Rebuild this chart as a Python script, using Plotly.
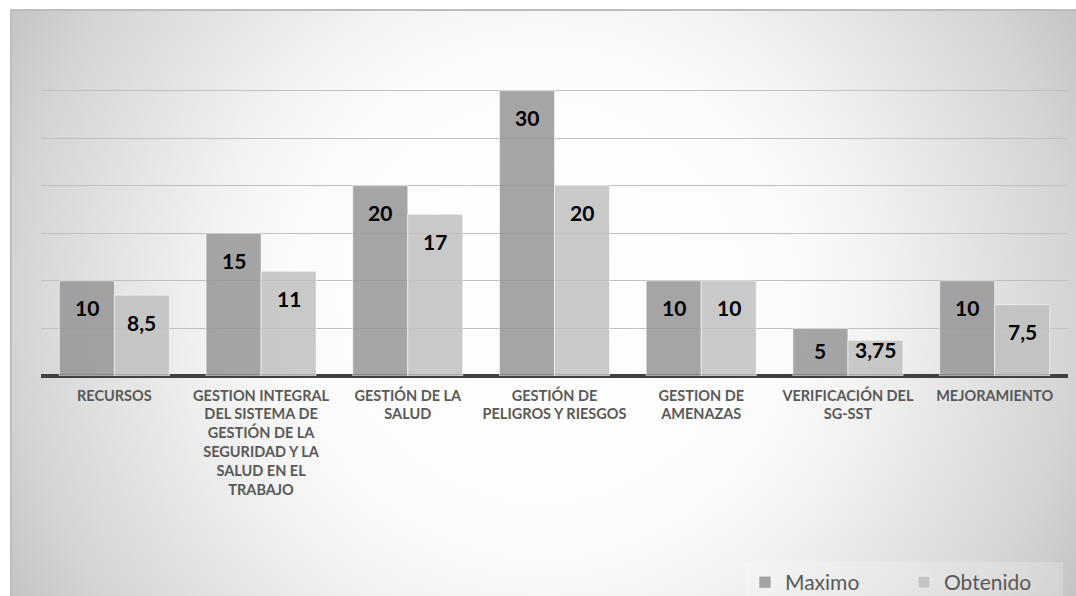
import base64
import plotly.graph_objects as go

# ---- data ----
categorias = [
    "RECURSOS",
    "GESTION INTEGRAL<br>DEL SISTEMA DE<br>GESTIÓN DE LA<br>SEGURIDAD Y LA<br>SALUD EN EL<br>TRABAJO",
    "GESTIÓN DE LA<br>SALUD",
    "GESTIÓN DE<br>PELIGROS Y RIESGOS",
    "GESTION DE<br>AMENAZAS",
    "VERIFICACIÓN DEL<br>SG-SST",
    "MEJORAMIENTO",
]
maximo = [10, 15, 20, 30, 10, 5, 10]
obtenido = [8.5, 11, 17, 20, 10, 3.75, 7.5]
series = [("Maximo", maximo), ("Obtenido", obtenido)]

# ---- layout geometry (pixels) ----
W, H = 1076, 596
M_L, M_R, M_T, M_B = 41, 8, 43, 220
Y_MAX = 35
plot_w = W - M_L - M_R
plot_h = H - M_T - M_B
px_per_unit = plot_h / Y_MAX
BARGAP = 0.25
cat_w = plot_w / len(categorias)
bar_w = cat_w * (1 - BARGAP) / 2

colores = ["rgba(149,149,149,0.85)", "rgba(192,192,192,0.85)"]


def etiqueta(v):
    s = f"{v:g}"
    return s.replace(".", ",")


fig = go.Figure()
for (nombre, vals), color in zip(series, colores):
    fig.add_trace(go.Bar(
        name=nombre, x=categorias, y=vals,
        marker=dict(color=color, line=dict(color="rgba(255,255,255,0.55)", width=1)),
        hoverinfo="skip",
    ))

# value labels placed inside the top of each bar
anotaciones = []
for i, (nombre, vals) in enumerate(series):
    dx = (i - 0.5) * bar_w
    for cat, v in zip(categorias, vals):
        bar_px = v * px_per_unit
        anotaciones.append(dict(
            x=cat, y=v, xref="x", yref="y", text=etiqueta(v), showarrow=False,
            xshift=dx, yshift=-min(27, bar_px - 26), yanchor="middle",
            font=dict(family="Lato", size=21, color="#000000", weight="bold"),
        ))

# radial-gradient chart area with a thin frame
svg = (
    "<svg xmlns='http://www.w3.org/2000/svg' width='1066' height='587' viewBox='0 0 1066 587' "
    "preserveAspectRatio='none'><defs><radialGradient id='g' gradientUnits='userSpaceOnUse' "
    "cx='533' cy='293' r='608'>"
    "<stop offset='0' stop-color='#ffffff'/>"
    "<stop offset='0.4' stop-color='#fcfcfc'/>"
    "<stop offset='0.55' stop-color='#f2f2f2'/>"
    "<stop offset='0.87' stop-color='#d4d4d4'/>"
    "<stop offset='1' stop-color='#c4c4c4'/>"
    "</radialGradient></defs>"
    "<rect width='1066' height='587' fill='url(#g)'/>"
    "<path d='M1,587 V1 H1066' stroke='#bdbdbd' stroke-width='2' fill='none'/>"
    "</svg>"
)
src = "data:image/svg+xml;base64," + base64.b64encode(svg.encode()).decode()
fx0, fy0 = 10, 9
fig.add_layout_image(dict(
    source=src, xref="paper", yref="paper",
    x=(fx0 - M_L) / plot_w, y=(H - M_B - fy0) / plot_h,
    sizex=(W - fx0) / plot_w, sizey=(H - fy0) / plot_h,
    xanchor="left", yanchor="top", sizing="stretch", layer="below",
))

# legend box bottom edge sits a few pixels below the page edge
legend_bottom_px = H + 7
fig.update_layout(
    width=W, height=H,
    margin=dict(l=M_L, r=M_R, t=M_T, b=M_B, pad=0, autoexpand=False),
    paper_bgcolor="#ffffff", plot_bgcolor="rgba(0,0,0,0)",
    barmode="group", bargap=BARGAP, bargroupgap=0,
    font=dict(family="Lato", color="#595959"),
    annotations=anotaciones,
    showlegend=True,
    legend=dict(
        orientation="h", xref="container", yref="paper",
        x=745 / W, y=-(legend_bottom_px - (H - M_B)) / plot_h,
        xanchor="left", yanchor="bottom",
        entrywidth=114, entrywidthmode="pixels",
        bgcolor="rgba(255,255,255,0.22)",
        font=dict(family="Lato", size=21, color="#595959"),
        traceorder="normal",
    ),
    xaxis=dict(
        showgrid=False, showline=False, ticks="",
        tickfont=dict(family="Lato", size=14.5, color="#595959", weight="bold"),
        ticklabelstandoff=9,
    ),
    yaxis=dict(
        range=[0, Y_MAX], dtick=5, showticklabels=False, ticks="",
        showgrid=True, gridcolor="#c0c0c0", gridwidth=1.3,
        zeroline=True, zerolinecolor="#404040", zerolinewidth=3.5,
        showline=False, fixedrange=True,
    ),
)

fig.write_html("out.html")
